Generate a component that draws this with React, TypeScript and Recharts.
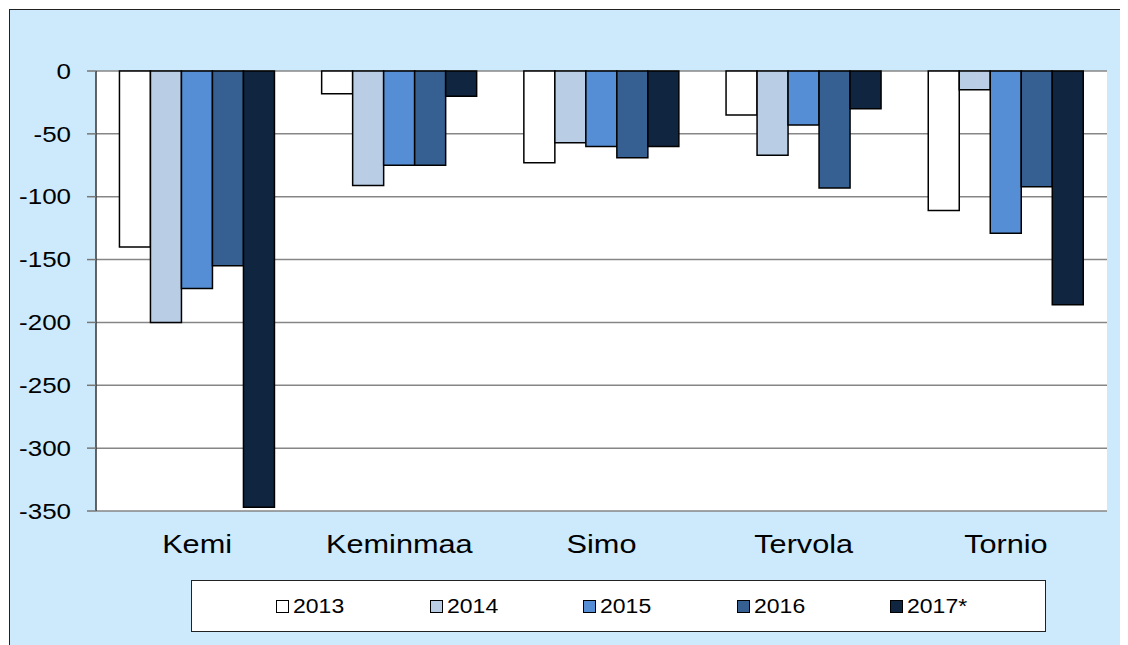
import { BarChart, Bar, XAxis, YAxis, CartesianGrid, Legend } from 'recharts'

const categories = ['Kemi', 'Keminmaa', 'Simo', 'Tervola', 'Tornio']
const years = ['2013', '2014', '2015', '2016', '2017*']
const v2013 = [-140, -18, -73, -35, -111]
const v2014 = [-200, -91, -57, -67, -15]
const v2015 = [-173, -75, -60, -43, -129]
const v2016 = [-155, -75, -69, -93, -92]
const v2017 = [-347, -20, -60, -30, -186]
const yTicks = [0, -50, -100, -150, -200, -250, -300, -350]

const series = [v2013, v2014, v2015, v2016, v2017]
const colors = ['#ffffff', '#b9cde5', '#558ed5', '#376092', '#10253f']
const keys = years.map((_, i) => `s${i}`)
const boundaries = categories.map((_, i) => i).slice(1)

const data = categories.map((name, ci) => {
  const row: Record<string, string | number> = { name }
  series.forEach((s, si) => {
    row[keys[si]] = s[ci]
  })
  return row
})

const FONT = '"Liberation Sans", Arial, sans-serif'
const STRETCH = 1.18

function YTick(props: any) {
  const { x, y, payload } = props
  return (
    <g transform={`translate(${x},${y})`}>
      <text textAnchor="end" dy="0.35em" transform={`scale(${STRETCH},1)`} fontSize={22} fill="#000" fontFamily={FONT}>
        {payload.value}
      </text>
    </g>
  )
}

function XTick(props: any) {
  const { x, y, payload } = props
  return (
    <g transform={`translate(${x},${y})`}>
      <text textAnchor="middle" dy="0.71em" transform={`scale(${STRETCH},1)`} fontSize={26} fill="#000" fontFamily={FONT}>
        {payload.value}
      </text>
    </g>
  )
}

function LegendBox() {
  return (
    <div
      style={{
        width: 855,
        height: 52,
        boxSizing: 'border-box',
        background: '#fff',
        border: '1px solid #222',
        display: 'flex',
        alignItems: 'center',
        paddingLeft: 84,
      }}
    >
      {years.map((y, i) => (
        <div key={y} style={{ width: 153.5, display: 'flex', alignItems: 'center' }}>
          <span
            style={{
              width: 11,
              height: 11,
              background: colors[i],
              border: '1px solid #000',
              marginRight: 4,
              display: 'inline-block',
            }}
          />
          <span
            style={{
              display: 'inline-block',
              fontFamily: FONT,
              fontSize: 19.5,
              color: '#000',
              transform: `scaleX(${STRETCH})`,
              transformOrigin: 'left center',
            }}
          >
            {y}
          </span>
        </div>
      ))}
    </div>
  )
}

export default function App() {
  return (
    <div
      style={{
        marginLeft: 1,
        marginTop: 1,
        width: 1118,
        height: 635,
        background: '#cceafc',
        borderTop: '1px solid #222',
        borderLeft: '1px solid #222',
      }}
    >
      <BarChart
        width={1118}
        height={635}
        data={data}
        margin={{ top: 61, right: 21, bottom: 74, left: 0 }}
        barCategoryGap="11.6%"
        barGap={0}
      >
        <CartesianGrid vertical={false} stroke="#868686" strokeWidth={1.5} fill="#fff" />
        <XAxis
          dataKey="name"
          height={60}
          axisLine={false}
          tickLine={false}
          tickSize={0}
          tickMargin={24}
          tick={<XTick />}
          interval={0}
        />
        <XAxis
          xAxisId="top"
          type="number"
          orientation="top"
          domain={[0, categories.length]}
          allowDataOverflow
          ticks={boundaries}
          height={0}
          mirror
          tick={false}
          tickSize={8}
          tickLine={{ stroke: '#222', strokeWidth: 1.5 }}
          axisLine={{ stroke: '#222', strokeWidth: 1.5 }}
        />
        <YAxis
          domain={[-350, 0]}
          ticks={yTicks}
          width={86}
          tickSize={9}
          tickMargin={16}
          interval={0}
          tick={<YTick />}
          tickLine={{ stroke: '#777', strokeWidth: 1.5 }}
          axisLine={{ stroke: '#333', strokeWidth: 1.5 }}
        />
        <YAxis
          yAxisId="right"
          orientation="right"
          domain={[-350, 0]}
          width={0}
          tick={false}
          tickLine={false}
          axisLine={{ stroke: '#999', strokeWidth: 2 }}
        />
        <Legend
          layout="horizontal"
          verticalAlign="middle"
          content={<LegendBox />}
          wrapperStyle={{ left: 181, top: 570, width: 855, height: 52 }}
        />
        {keys.map((k, i) => (
          <Bar
            key={k}
            dataKey={k}
            name={years[i]}
            fill={colors[i]}
            stroke="#000"
            strokeWidth={1.5}
            isAnimationActive={false}
          />
        ))}
      </BarChart>
    </div>
  )
}
